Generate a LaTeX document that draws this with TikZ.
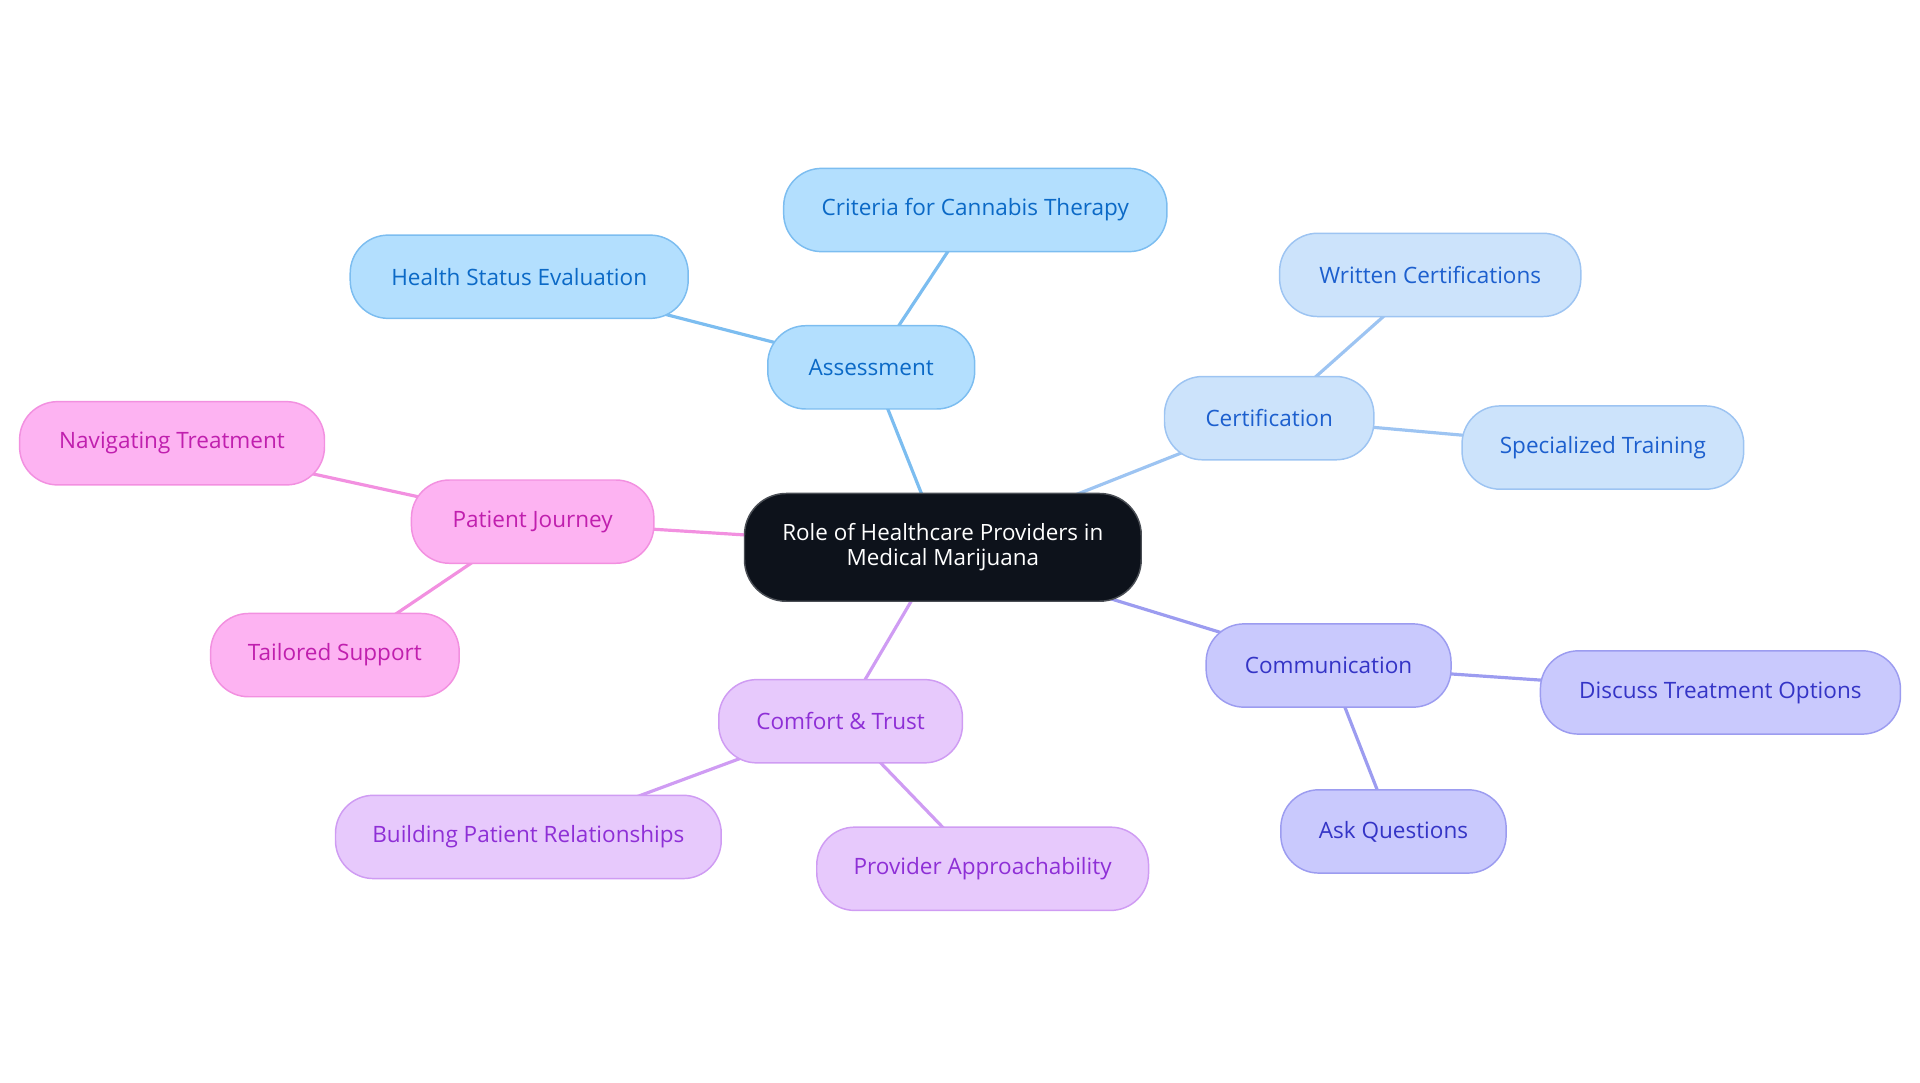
\documentclass[tikz,border=0pt]{standalone}
\usepackage{fontspec}
\setmainfont{Open Sans}
\usetikzlibrary{backgrounds}
\definecolor{asF}{HTML}{B3DFFE}\definecolor{asB}{HTML}{7CBDF0}\definecolor{asT}{HTML}{0B69C6}
\definecolor{ceF}{HTML}{CCE3FB}\definecolor{ceB}{HTML}{9DC4F2}\definecolor{ceT}{HTML}{1C5FCE}
\definecolor{coF}{HTML}{C9C9FD}\definecolor{coB}{HTML}{9C9CF0}\definecolor{coT}{HTML}{3434C6}
\definecolor{ctF}{HTML}{E7C9FC}\definecolor{ctB}{HTML}{CF9CF3}\definecolor{ctT}{HTML}{8E2FD6}
\definecolor{pjF}{HTML}{FDB3F2}\definecolor{pjB}{HTML}{F290E0}\definecolor{pjT}{HTML}{C01FAE}
\definecolor{rootF}{HTML}{0D121B}\definecolor{rootB}{HTML}{4A4E55}
\tikzset{
  pill/.style={draw, line width=1.2pt, rounded corners=31pt, minimum height=68pt, inner sep=0pt,
    font=\fontsize{18.4}{22}\selectfont, align=center},
  asn/.style={pill, fill=asF, draw=asB, text=asT},
  cen/.style={pill, fill=ceF, draw=ceB, text=ceT},
  con/.style={pill, fill=coF, draw=coB, text=coT},
  ctn/.style={pill, fill=ctF, draw=ctB, text=ctT},
  pjn/.style={pill, fill=pjF, draw=pjB, text=pjT},
  rootn/.style={pill, fill=rootF, draw=rootB, text=white, rounded corners=34pt, minimum height=88pt,
    font=\fontsize{18.3}{20.5}\selectfont},
  link/.style={line width=2.6pt},
}
\begin{document}
\begin{tikzpicture}[x=1pt,y=-1pt]
\useasboundingbox (0,0) rectangle (1568,884);
\node[rootn, minimum width=324pt] (root) at (770,447) {Role of Healthcare Providers in\\Medical Marijuana};
\node[asn, minimum width=169pt] (as) at (711.5,300) {Assessment};
\node[asn, minimum width=313pt] (crit) at (796.5,171.5) {Criteria for Cannabis Therapy};
\node[asn, minimum width=276pt] (health) at (424,226) {Health Status Evaluation};
\node[cen, minimum width=171pt] (cert) at (1036.5,341.5) {Certification};
\node[cen, minimum width=246pt] (writ) at (1168,224.5) {Written Certifications};
\node[cen, minimum width=230pt] (spec) at (1309,365.5) {Specialized Training};
\node[con, minimum width=200pt] (comm) at (1085,543.5) {Communication};
\node[con, minimum width=294pt] (disc) at (1405,565.5) {Discuss Treatment Options};
\node[con, minimum width=184pt] (ask) at (1138,679) {Ask Questions};
\node[ctn, minimum width=199pt] (ct) at (686.5,589) {Comfort \& Trust};
\node[ctn, minimum width=315pt] (build) at (431.5,683.5) {Building Patient Relationships};
\node[ctn, minimum width=271pt] (prov) at (802.5,709.5) {Provider Approachability};
\node[pjn, minimum width=198pt] (pj) at (435,426) {Patient Journey};
\node[pjn, minimum width=249pt] (nav) at (140.5,362) {Navigating Treatment};
\node[pjn, minimum width=203pt] (tail) at (273.5,535) {Tailored Support};
\begin{scope}[on background layer]
\draw[link, asB] (root.center) -- (as.center);
\draw[link, asB] (as.center) -- (crit.center);
\draw[link, asB] (as.center) -- (health.center);
\draw[link, ceB] (root.center) -- (cert.center);
\draw[link, ceB] (cert.center) -- (writ.center);
\draw[link, ceB] (cert.center) -- (spec.center);
\draw[link, coB] (root.center) -- (comm.center);
\draw[link, coB] (comm.center) -- (disc.center);
\draw[link, coB] (comm.center) -- (ask.center);
\draw[link, ctB] (root.center) -- (ct.center);
\draw[link, ctB] (ct.center) -- (build.center);
\draw[link, ctB] (ct.center) -- (prov.center);
\draw[link, pjB] (root.center) -- (pj.center);
\draw[link, pjB] (pj.center) -- (nav.center);
\draw[link, pjB] (pj.center) -- (tail.center);
\end{scope}
\end{tikzpicture}
\end{document}
